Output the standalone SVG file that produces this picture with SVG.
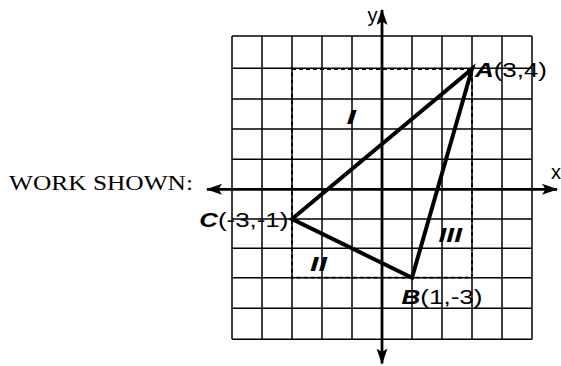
<svg xmlns="http://www.w3.org/2000/svg" width="561" height="366" viewBox="0 0 561 366">
<style>
.grid{stroke:#000;stroke-width:1.5;fill:none}
.axis{stroke:#000;stroke-width:2.8;fill:none}
.dash{stroke:#000;stroke-width:1.8;fill:none;stroke-dasharray:4 3}
.tri{stroke:#000;stroke-width:4;fill:none;stroke-linejoin:miter}
.lbl{font-family:"Liberation Sans",Arial,sans-serif;font-size:20.5px;fill:#000}
.ax{font-family:"Liberation Sans",Arial,sans-serif;font-size:20px;fill:#000}
.bi{font-weight:bold;font-style:italic}
.work{font-family:"Liberation Serif","Times New Roman",serif;font-size:22px;fill:#000}
</style>
<defs>
<marker id="arr" viewBox="0 0 16 11" refX="15" refY="5.5" markerWidth="16" markerHeight="11" markerUnits="userSpaceOnUse" orient="auto">
<path d="M0,0 L16,5.5 L0,11 L3.5,5.5 Z" fill="#000"/>
</marker>
</defs>
<rect width="561" height="366" fill="#fff"/>
<g id="grid">
<path class="grid" d="M232,36V339.3M262,36V339.3M292,36V339.3M322,36V339.3M352,36V339.3M412,36V339.3M442,36V339.3M472,36V339.3M502,36V339.3M532,36V339.3"/>
<path class="grid" d="M232,36H532M232,68.3H532M232,99H532M232,129H532M232,159.3H532M232,219H532M232,248.3H532M232,277.7H532M232,308.3H532M232,339.3H532"/>
</g>
<g id="axes">
<line class="axis" x1="382" y1="189.3" x2="557" y2="189.3" marker-end="url(#arr)"/>
<line class="axis" x1="382" y1="189.3" x2="207" y2="189.3" marker-end="url(#arr)"/>
<line class="axis" x1="382" y1="189.3" x2="382" y2="10" marker-end="url(#arr)"/>
<line class="axis" x1="382" y1="189.3" x2="382" y2="363.5" marker-end="url(#arr)"/>
<text class="ax" x="367.5" y="21.5">y</text>
<text class="ax" x="551" y="179">x</text>
</g>
<g id="dashed-box">
<rect class="dash" x="292" y="69" width="180" height="208.7"/>
</g>
<g id="connectors">
<path class="tri" d="M472,69 L412,277.7 L292,219 Z"/>
</g>
<g id="A"><text class="lbl" x="475" y="77" textLength="72" lengthAdjust="spacingAndGlyphs"><tspan class="bi">A</tspan>(3,4)</text></g>
<g id="B"><text class="lbl" x="401.5" y="304" textLength="81" lengthAdjust="spacingAndGlyphs"><tspan class="bi">B</tspan>(1,-3)</text></g>
<g id="C"><text class="lbl" x="199.3" y="227" textLength="89" lengthAdjust="spacingAndGlyphs"><tspan class="bi">C</tspan>(-3,-1)</text></g>
<g id="I"><text class="lbl bi" x="346.5" y="124" textLength="9.5" lengthAdjust="spacingAndGlyphs">I</text></g>
<g id="II"><text class="lbl bi" x="310" y="270.5" textLength="17" lengthAdjust="spacingAndGlyphs">II</text></g>
<g id="III"><text class="lbl bi" x="438.5" y="242" textLength="23.5" lengthAdjust="spacingAndGlyphs">III</text></g>
<g id="work"><text class="work" x="9" y="190" textLength="184" lengthAdjust="spacingAndGlyphs">WORK SHOWN:</text></g>
</svg>
